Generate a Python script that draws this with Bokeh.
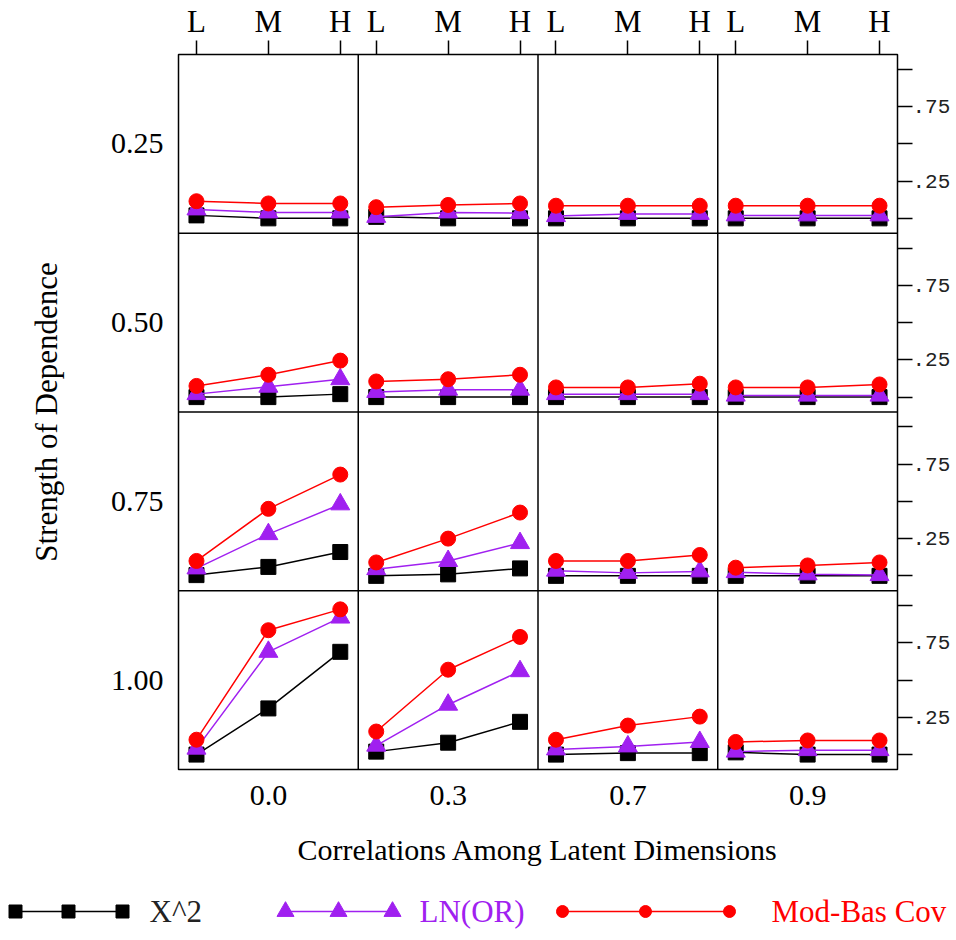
from bokeh.plotting import figure
from bokeh.models import Range1d, LinearAxis, FixedTicker, Span
from bokeh.layouts import column
from bokeh.embed import file_html
from bokeh.resources import INLINE
from bokeh.core.properties import value

# ---------------- data ----------------
levels = ["L", "M", "H"]
level_x = [1, 2, 3]
correlations = ["0.0", "0.3", "0.7", "0.9"]
strengths = ["0.25", "0.50", "0.75", "1.00"]
series_names = ["X^2", "LN(OR)", "Mod-Bas Cov"]
right_tick_values = [0.0, 0.25, 0.5, 0.75, 1.0]
right_tick_labels = ["", ".25", "", ".75", ""]

# each list: one [L, M, H] triple per correlation column (0.0, 0.3, 0.7, 0.9)
chi2_s025 = [[0.02, 0.0, 0.0], [0.01, 0.0, 0.0], [0.0, 0.0, 0.0], [0.0, 0.0, 0.0]]
lnor_s025 = [[0.06, 0.04, 0.04], [0.01, 0.04, 0.035], [0.015, 0.03, 0.03], [0.02, 0.02, 0.02]]
mod_s025 = [[0.115, 0.10, 0.10], [0.075, 0.09, 0.10], [0.085, 0.085, 0.085], [0.085, 0.085, 0.085]]

chi2_s050 = [[0.0, 0.0, 0.02], [0.0, 0.0, 0.0], [0.0, 0.0, 0.0], [0.0, 0.0, 0.0]]
lnor_s050 = [[0.02, 0.07, 0.12], [0.035, 0.05, 0.05], [0.02, 0.02, 0.02], [0.01, 0.01, 0.01]]
mod_s050 = [[0.075, 0.15, 0.245], [0.105, 0.12, 0.15], [0.065, 0.065, 0.09], [0.065, 0.065, 0.085]]

chi2_s075 = [[0.005, 0.06, 0.16], [0.0, 0.01, 0.05], [0.0, 0.0, 0.0], [0.0, 0.0, 0.0]]
lnor_s075 = [[0.05, 0.28, 0.48], [0.045, 0.10, 0.22], [0.035, 0.02, 0.03], [0.025, 0.01, 0.005]]
mod_s075 = [[0.10, 0.45, 0.68], [0.09, 0.25, 0.425], [0.10, 0.10, 0.14], [0.055, 0.07, 0.09]]

chi2_s100 = [[0.0, 0.31, 0.69], [0.02, 0.08, 0.22], [0.0, 0.01, 0.01], [0.015, 0.0, 0.0]]
lnor_s100 = [[0.04, 0.69, 0.92], [0.06, 0.335, 0.56], [0.035, 0.055, 0.085], [0.02, 0.03, 0.03]]
mod_s100 = [[0.10, 0.835, 0.975], [0.155, 0.57, 0.79], [0.10, 0.195, 0.255], [0.085, 0.095, 0.095]]

chi2_rows = [chi2_s025, chi2_s050, chi2_s075, chi2_s100]
lnor_rows = [lnor_s025, lnor_s050, lnor_s075, lnor_s100]
mod_rows = [mod_s025, mod_s050, mod_s075, mod_s100]

# ---------------- style ----------------
BLACK, PURPLE, RED = "#000000", "#a020f0", "#ff0000"
SERIF = "Liberation Serif"
styles = [
    (chi2_rows, BLACK, "square", 15),
    (lnor_rows, PURPLE, "triangle", 19),
    (mod_rows, RED, "circle", 15),
]

NC, NR = len(correlations), len(strengths)
XLO, XHI = 0.75, 3.25          # local panel x range
YLO, YHI = -0.1, 1.1           # local panel y range
XW, YH = XHI - XLO, YHI - YLO
GX, GY = 10.0, 12.0            # global units per panel
sx, sy = GX / XW, GY / YH

p = figure(frame_width=719, frame_height=715,
           x_range=Range1d(0, GX * NC), y_range=Range1d(0, GY * NR),
           x_axis_location=None, y_axis_location=None,
           output_backend="svg", toolbar_location=None,
           min_border_left=178, min_border_right=59,
           min_border_top=53, min_border_bottom=112)
p.frame_align = False
for g in p.grid:
    g.visible = False
p.outline_line_color = "black"
p.outline_line_width = 1.5
p.outline_line_alpha = 1.0
p.background_fill_color = "white"
p.border_fill_color = "white"

# per-panel ranges
for j in range(NC):
    s = XLO - XW * j
    p.extra_x_ranges[f"c{j}"] = Range1d(s, s + XW * NC)
for i in range(NR):
    k = NR - 1 - i
    s = YLO - YH * k
    p.extra_y_ranges[f"r{i}"] = Range1d(s, s + YH * NR)

# panel separators
for j in range(1, NC):
    p.add_layout(Span(location=GX * j, dimension="height", line_color="black", line_width=1.5))
for i in range(1, NR):
    p.add_layout(Span(location=GY * i, dimension="width", line_color="black", line_width=1.5))

# top axis: L M H for each column
top_ticks, top_over = [], {}
for j in range(NC):
    for xv, lab in zip(level_x, levels):
        t = GX * j + sx * (xv - XLO)
        top_ticks.append(t)
        top_over[t] = lab
top = LinearAxis(ticker=FixedTicker(ticks=top_ticks, minor_ticks=[]), major_label_overrides=top_over)
top.axis_line_color = None
top.major_tick_in = 0
top.major_tick_out = 14
top.major_tick_line_width = 1.5
top.major_label_standoff = 2
top.major_label_text_font = SERIF
top.major_label_text_font_size = "31px"
top.major_label_text_color = "black"
p.add_layout(top, "above")

# right axis: per-row ticks
rt, rover = [], {}
for k in range(NR):
    for v, lab in zip(right_tick_values, right_tick_labels):
        t = GY * k + sy * (v - YLO)
        rt.append(t)
        rover[t] = lab
right = LinearAxis(ticker=FixedTicker(ticks=rt, minor_ticks=[]), major_label_overrides=rover)
right.axis_line_color = None
right.major_tick_in = 0
right.major_tick_out = 15
right.major_tick_line_width = 1.5
right.major_label_standoff = 0
right.major_label_text_font = "Liberation Mono"
right.major_label_text_font_size = "21px"
right.major_label_text_color = "#222222"
p.add_layout(right, "right")

# left axis: strength labels
lt, lover = [], {}
for i, lab in enumerate(strengths):
    k = NR - 1 - i
    t = GY * k + GY / 2
    lt.append(t)
    lover[t] = lab
left = LinearAxis(ticker=FixedTicker(ticks=lt, minor_ticks=[]), major_label_overrides=lover,
                  axis_label="Strength of Dependence")
left.axis_line_color = None
left.major_tick_line_color = None
left.major_tick_in = 0
left.major_tick_out = 0
left.major_label_standoff = 15
left.major_label_text_font = SERIF
left.major_label_text_font_size = "30px"
left.major_label_text_color = "black"
left.axis_label_text_font = SERIF
left.axis_label_text_font_size = "31px"
left.axis_label_text_font_style = "normal"
left.axis_label_text_color = "black"
left.axis_label_standoff = 44
p.add_layout(left, "left")

# bottom axis: correlation labels
bt, bover = [], {}
for j, lab in enumerate(correlations):
    t = GX * j + GX / 2
    bt.append(t)
    bover[t] = lab
bottom = LinearAxis(ticker=FixedTicker(ticks=bt, minor_ticks=[]), major_label_overrides=bover,
                    axis_label="Correlations Among Latent Dimensions")
bottom.axis_line_color = None
bottom.major_tick_line_color = None
bottom.major_tick_in = 0
bottom.major_tick_out = 0
bottom.major_label_standoff = 16
bottom.major_label_text_font = SERIF
bottom.major_label_text_font_size = "30px"
bottom.major_label_text_color = "black"
bottom.axis_label_text_font = SERIF
bottom.axis_label_text_font_size = "30px"
bottom.axis_label_text_font_style = "normal"
bottom.axis_label_text_color = "black"
bottom.axis_label_standoff = 25
p.add_layout(bottom, "below")

# data
for i in range(NR):
    for j in range(NC):
        for rows, color, marker, size in styles:
            ys = rows[i][j]
            p.line(level_x, ys, x_range_name=f"c{j}", y_range_name=f"r{i}",
                   line_color=color, line_width=1.5)
            p.scatter(level_x, ys, x_range_name=f"c{j}", y_range_name=f"r{i}",
                      marker=marker, size=size, fill_color=color, line_color=color)

# ---------------- legend ----------------
lg = figure(width=956, height=60, x_range=Range1d(0, 956), y_range=Range1d(0, 60),
            x_axis_location=None, y_axis_location=None,
            output_backend="svg", toolbar_location=None,
            min_border=0, min_border_left=0, min_border_right=0,
            min_border_top=0, min_border_bottom=0, outline_line_color=None)
lg.frame_align = False
for g in lg.grid:
    g.visible = False
leg_items = [
    (series_names[0], BLACK, "square", 13, [15, 68, 122], 149, "#222222"),
    (series_names[1], PURPLE, "triangle", 17, [285, 338, 392], 419, PURPLE),
    (series_names[2], RED, "circle", 12, [562, 645, 729], 771, RED),
]
for name, color, marker, size, xs, tx, tcol in leg_items:
    lg.line(xs, [30] * 3, line_color=color, line_width=1.5)
    lg.scatter(xs, [30] * 3, marker=marker, size=size, fill_color=color, line_color=color)
    lg.text([tx], [30], text=[name], text_font=value(SERIF), text_font_size="31px",
            text_color=tcol, text_baseline="middle", text_align="left")

layout = column(p, lg, spacing=0)
open("out.html", "w").write(file_html(layout, INLINE))
